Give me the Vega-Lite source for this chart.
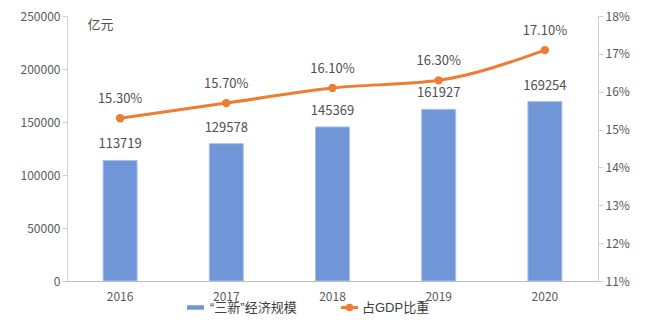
{
  "$schema": "https://vega.github.io/schema/vega-lite/v6.json",
  "width": 531,
  "height": 265,
  "autosize": "none",
  "padding": {"left": 67, "top": 16, "right": 54, "bottom": 42},
  "background": "white",
  "config": {
    "view": {"stroke": null},
    "font": "Noto Sans CJK SC",
    "axis": {
      "domainColor": "#d0d0d0",
      "tickColor": "#d0d0d0",
      "labelColor": "#595959",
      "labelFontSize": 12,
      "labelFont": "Noto Sans CJK SC",
      "grid": false
    },
    "legend": {"labelColor": "#404040", "labelFontSize": 13, "labelFont": "Liberation Sans, Noto Sans CJK SC"}
  },
  "data": {
    "values": [
      {"year": "2016", "scale": 113719, "share": 0.153, "shareLabel": "15.30%", "series": "“三新”经济规模", "series2": "占GDP比重"},
      {"year": "2017", "scale": 129578, "share": 0.157, "shareLabel": "15.70%", "series": "“三新”经济规模", "series2": "占GDP比重"},
      {"year": "2018", "scale": 145369, "share": 0.161, "shareLabel": "16.10%", "series": "“三新”经济规模", "series2": "占GDP比重"},
      {"year": "2019", "scale": 161927, "share": 0.163, "shareLabel": "16.30%", "series": "“三新”经济规模", "series2": "占GDP比重"},
      {"year": "2020", "scale": 169254, "share": 0.171, "shareLabel": "17.10%", "series": "“三新”经济规模", "series2": "占GDP比重"}
    ]
  },
  "encoding": {
    "x": {
      "field": "year",
      "type": "nominal",
      "scale": {"paddingInner": 0.68, "paddingOuter": 0.34},
      "axis": {"title": null, "labelAngle": 0, "ticks": false, "labelPadding": 10, "domainColor": "#bfbfbf"}
    }
  },
  "layer": [
    {
      "encoding": {
        "y": {
          "field": "scale",
          "type": "quantitative",
          "scale": {"domain": [0, 250000], "nice": false},
          "axis": {
            "values": [0, 50000, 100000, 150000, 200000, 250000],
            "format": "d",
            "title": "亿元",
            "titleAngle": 0,
            "titleX": 33,
            "titleY": 8,
            "titleAlign": "center",
            "titleBaseline": "middle",
            "titleFontWeight": "normal",
            "titleFontSize": 13,
            "titleColor": "#505050",
            "tickSize": 5
          }
        }
      },
      "layer": [
        {
          "mark": {"type": "bar", "stroke": "#a9c0ea", "strokeWidth": 1},
          "encoding": {
            "fill": {
              "field": "series",
              "type": "nominal",
              "scale": {"range": ["#7196d8"]},
              "legend": {
                "title": null,
                "orient": "none",
                "legendX": 122,
                "legendY": 285,
                "symbolType": "M-1.7,-0.45H1.7V0.45H-1.7Z",
                "symbolSize": 100,
                "symbolStrokeWidth": 0,
                "labelOffset": 8
              }
            }
          }
        },
        {
          "mark": {"type": "text", "baseline": "bottom", "dy": -9, "fontSize": 13, "color": "#505050"},
          "encoding": {"text": {"field": "scale", "type": "quantitative", "format": "d"}}
        }
      ]
    },
    {
      "encoding": {
        "y": {
          "field": "share",
          "type": "quantitative",
          "scale": {"domain": [0.11, 0.18], "nice": false, "zero": false},
          "axis": {
            "orient": "right",
            "values": [0.11, 0.12, 0.13, 0.14, 0.15, 0.16, 0.17, 0.18],
            "format": ".0%",
            "title": null,
            "tickSize": 5
          }
        }
      },
      "layer": [
        {
          "mark": {"type": "line", "interpolate": "monotone", "strokeWidth": 3, "color": "#ed7d31"},
          "encoding": {
            "stroke": {
              "field": "series2",
              "type": "nominal",
              "scale": {"range": ["#ed7d31"]},
              "legend": {
                "title": null,
                "orient": "none",
                "legendX": 276,
                "legendY": 285,
                "symbolType": "M-1.7,0H1.7M0.45,0A0.45,0.45 0 1,1 -0.45,0A0.45,0.45 0 1,1 0.45,0Z",
                "symbolSize": 100,
                "symbolStrokeWidth": 3,
                "symbolFillColor": "#ed7d31",
                "labelOffset": 6
              }
            }
          }
        },
        {
          "mark": {"type": "point", "filled": true, "size": 70, "color": "#ed7d31", "opacity": 1}
        },
        {
          "mark": {"type": "text", "baseline": "bottom", "dy": -12, "fontSize": 13, "color": "#505050"},
          "encoding": {"text": {"field": "shareLabel", "type": "nominal"}}
        }
      ]
    }
  ],
  "resolve": {"scale": {"y": "independent", "fill": "independent", "stroke": "independent"}}
}
